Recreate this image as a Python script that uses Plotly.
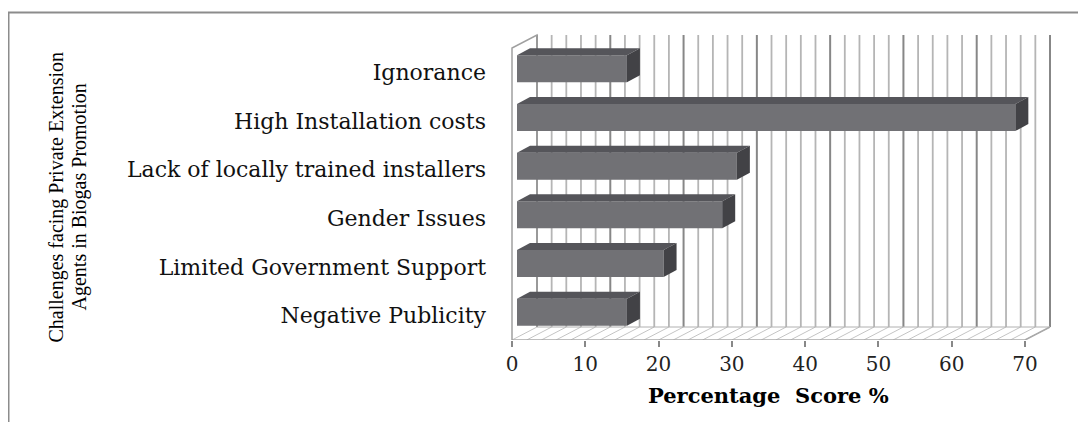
import plotly.graph_objects as go

# ---------------- data ----------------
categories = ["Negative Publicity", "Limited Government Support", "Gender Issues",
              "Lack of locally trained installers", "High Installation costs", "Ignorance"]
scores = [15, 20, 28, 30, 68, 15]
x_tick_values = [0, 10, 20, 30, 40, 50, 60, 70]
x_max = 70
grid_step = 2
y_title_lines = ["Challenges facing Private Extension", "Agents in Biogas Promotion"]
x_title = "Percentage  Score %"

# ---------------- layout geometry (pixels, in page coordinates) ----------------
W, H = 1086, 422
OFF = 8                                      # default page body margin
FIG_W, FIG_H = W - OFF, H - OFF
PL, PR, PT, PB = 509, 1056, 30, 340          # plot area
X0_PX, XMAX_PX = 512, 1025                   # front floor edge: 0 and 70
WALL_TOP_PX = 48                             # top of front plane
ux = (XMAX_PX - X0_PX) / x_max               # px per x unit
uy = (PB - WALL_TOP_PX) / len(categories)    # px per category
xr = [-(X0_PX - PL) / ux, x_max + (PR - XMAX_PX) / ux]
yr = [-0.5, -0.5 + (PB - PT) / uy]

DX, DY = 25 / ux, 13 / uy        # chart depth (floor / walls)
BFX, BFY = 5 / ux, 3.5 / uy      # bar front face offset inside depth
BDX, BDY = 13 / ux, 7 / uy       # bar depth
BW = 27 / uy                     # bar thickness

FRONT, TOP, SIDE = "#717175", "#55555a", "#424246"
MAJOR, MINOR, FLOOR = "#878787", "#b5b5b5", "#c4c4c4"

ypos = list(range(len(categories)))
ncat = len(categories)

fig = go.Figure()
fig.add_trace(go.Bar(
    x=scores, y=ypos, orientation="h", width=BW,
    marker=dict(color=FRONT, line=dict(width=0)),
    xaxis="x2", yaxis="y2", hoverinfo="skip", showlegend=False))

shapes = []
yb, yt = -0.5, ncat - 0.5
# back wall grid lines and floor lines
for v in range(0, x_max + 1, grid_step):
    major = v % 10 == 0
    shapes.append(dict(type="line", xref="x", yref="y", layer="below",
                       x0=v + DX, x1=v + DX, y0=yb + DY, y1=yt + DY,
                       line=dict(color=MAJOR if major else MINOR, width=2 if major else 1.8)))
    shapes.append(dict(type="line", xref="x", yref="y", layer="below",
                       x0=v, x1=v + DX, y0=yb, y1=yb + DY,
                       line=dict(color=FLOOR, width=1)))
# floor edges
shapes.append(dict(type="line", xref="x", yref="y", layer="below",
                   x0=DX, x1=x_max + DX, y0=yb + DY, y1=yb + DY,
                   line=dict(color="#b0b0b0", width=1)))
shapes.append(dict(type="line", xref="x", yref="y", layer="below",
                   x0=0, x1=x_max, y0=yb, y1=yb,
                   line=dict(color="#a8a8a8", width=1.5)))
shapes.append(dict(type="line", xref="x", yref="y", layer="below",
                   x0=x_max, x1=x_max + DX, y0=yb, y1=yb + DY,
                   line=dict(color="#a8a8a8", width=1.5)))
# left wall outline
shapes.append(dict(type="path", xref="x", yref="y", layer="below",
                   path=f"M 0 {yb} L 0 {yt} L {DX} {yt + DY} L {DX} {yb + DY}",
                   line=dict(color="#a0a0a0", width=1.5)))

# bar top and side faces
for c, v in zip(ypos, scores):
    lo, hi = c - BW / 2, c + BW / 2
    shapes.append(dict(type="path", xref="x2", yref="y2", layer="above",
                       path=f"M 0 {hi} L {v} {hi} L {v + BDX} {hi + BDY} L {BDX} {hi + BDY} Z",
                       fillcolor=TOP, line=dict(width=0)))
    shapes.append(dict(type="path", xref="x2", yref="y2", layer="above",
                       path=f"M {v} {lo} L {v} {hi} L {v + BDX} {hi + BDY} L {v + BDX} {lo + BDY} Z",
                       fillcolor=SIDE, line=dict(width=0)))

# outer frame (top and left)
pw, ph = PR - PL, PB - PT
def px_x(p): return (p - PL) / pw
def px_y(p): return (PB - p) / ph
shapes.append(dict(type="line", xref="paper", yref="paper",
                   x0=px_x(8), x1=px_x(W + 10), y0=px_y(12.5), y1=px_y(12.5),
                   line=dict(color="#8c8c8c", width=2)))
shapes.append(dict(type="line", xref="paper", yref="paper",
                   x0=px_x(8.5), x1=px_x(8.5), y0=px_y(12), y1=px_y(H + 10),
                   line=dict(color="#8c8c8c", width=2)))

annotations = []
for line_txt, xpx in zip(y_title_lines, [56, 79]):
    annotations.append(dict(text=line_txt, xref="paper", yref="paper",
                            x=px_x(xpx), y=px_y(197.5), textangle=-90,
                            xanchor="center", yanchor="middle", showarrow=False,
                            font=dict(family="Liberation Serif", size=20, color="#000")))
annotations.append(dict(text=f"<b>{x_title}</b>", xref="x", yref="paper",
                        x=x_max / 2, y=px_y(395), xanchor="center", yanchor="middle",
                        showarrow=False,
                        font=dict(family="DejaVu Serif", size=21, color="#000")))

fig.update_layout(
    width=FIG_W, height=FIG_H,
    margin=dict(l=PL - OFF, r=FIG_W - (PR - OFF), t=PT - OFF, b=FIG_H - (PB - OFF), pad=0),
    paper_bgcolor="white", plot_bgcolor="white",
    showlegend=False,
    shapes=shapes, annotations=annotations,
    xaxis=dict(range=xr, tickvals=x_tick_values, ticks="outside", ticklen=6,
               tickwidth=1.5, tickcolor="#888888", showgrid=False, zeroline=False,
               showline=False, ticklabelstandoff=0,
               tickfont=dict(family="DejaVu Serif", size=20, color="#222")),
    yaxis=dict(range=yr, tickvals=ypos, ticktext=categories, ticks="",
               showgrid=False, zeroline=False, showline=False, ticklabelstandoff=22,
               tickfont=dict(family="DejaVu Serif", size=22, color="#111")),
    xaxis2=dict(overlaying="x", range=[xr[0] - BFX, xr[1] - BFX], visible=False,
                showgrid=False, zeroline=False),
    yaxis2=dict(overlaying="y", range=[yr[0] - BFY, yr[1] - BFY], visible=False,
                showgrid=False, zeroline=False),
)

fig.write_html("out.html")
